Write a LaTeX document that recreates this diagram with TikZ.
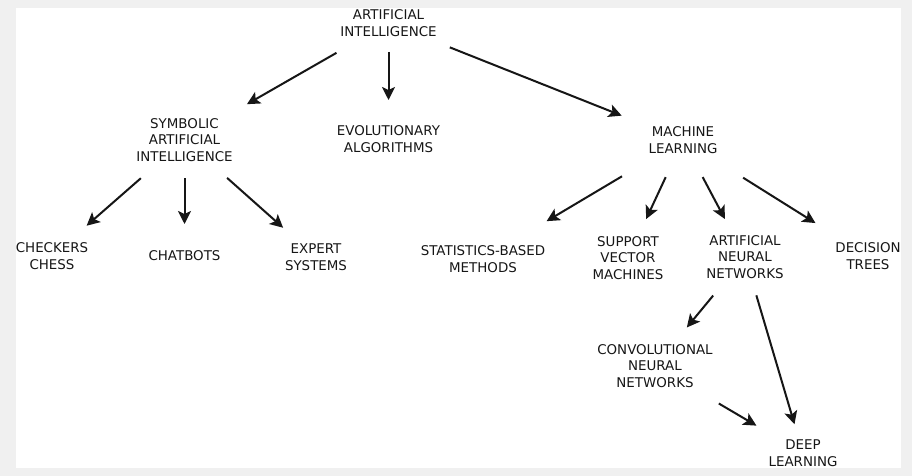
\documentclass[tikz,border=0pt]{standalone}
\usepackage{fontspec}
\setmainfont{DejaVu Sans}
\definecolor{bggray}{RGB}{240, 240, 240}
\definecolor{inkgray}{RGB}{22, 22, 22}
\usetikzlibrary{arrows.meta}

\tikzset{
  field/.style={font=\fontsize{13.4}{16.5}\selectfont, text=inkgray, align=center, inner sep=0pt},
  arr/.style={-{Stealth[length=13pt, width=13pt, inset=3pt]}, line width=2pt, draw=inkgray}
}

\begin{document}
\begin{tikzpicture}[x=1pt, y=-1pt]
  % Background
  \fill[bggray] (0, 0) rectangle (912, 476);
  \fill[white] (16, 8) rectangle (901, 468);
  \useasboundingbox (0, 0) rectangle (912, 476);

  % Top
  \node[field] (ai) at (388.5, 23) {ARTIFICIAL\\INTELLIGENCE};

  % Second row
  \node[field] (sai) at (184.5, 140) {SYMBOLIC\\ARTIFICIAL\\INTELLIGENCE};
  \node[field] (evo) at (388.5, 139) {EVOLUTIONARY\\ALGORITHMS};
  \node[field] (ml) at (683, 140) {MACHINE\\LEARNING};

  % Third row
  \node[field] (chess) at (52, 256) {CHECKERS\\CHESS};
  \node[field] (chat) at (184.5, 256) {CHATBOTS};
  \node[field] (expert) at (316, 257) {EXPERT\\SYSTEMS};
  \node[field] (stat) at (483, 259) {STATISTICS-BASED\\METHODS};
  \node[field] (svm) at (628, 258) {SUPPORT\\VECTOR\\MACHINES};
  \node[field] (ann) at (745, 257) {ARTIFICIAL\\NEURAL\\NETWORKS};
  \node[field] (tree) at (868, 256) {DECISION\\TREES};

  % Bottom
  \node[field] (cnn) at (655, 366) {CONVOLUTIONAL\\NEURAL\\NETWORKS};
  \node[field] (deep) at (803, 453) {DEEP\\LEARNING};

  % Arrows
  \draw[arr, shorten <=60pt, shorten >=72pt] (ai.center) -- (sai.center);
  \draw[arr, shorten <=29pt, shorten >=39pt] (ai.center) -- (evo.center);
  \draw[arr, shorten <=66pt, shorten >=66pt] (ai.center) -- (ml.center);

  \draw[arr, shorten <=58pt, shorten >=46pt] (sai.center) -- (chess.center);
  \draw[arr, shorten <=38pt, shorten >=32pt] (sai.center) -- (chat.center);
  \draw[arr, shorten <=57pt, shorten >=44pt] (sai.center) -- (expert.center);

  \draw[arr, shorten <=71pt, shorten >=74pt] (ml.center) -- (stat.center);
  \draw[arr, shorten <=41pt, shorten >=43pt] (ml.center) -- (svm.center);
  \draw[arr, shorten <=42pt, shorten >=43pt] (ml.center) -- (ann.center);
  \draw[arr, shorten <=71pt, shorten >=62pt] (ml.center) -- (tree.center);

  \draw[arr, shorten <=50pt, shorten >=50pt] (ann.center) -- (cnn.center);
  \draw[arr, shorten <=40pt, shorten >=30pt] (ann.center) -- (deep.center);
  \draw[arr, shorten <=74pt, shorten >=54pt] (cnn.center) -- (deep.center);
\end{tikzpicture}
\end{document}
